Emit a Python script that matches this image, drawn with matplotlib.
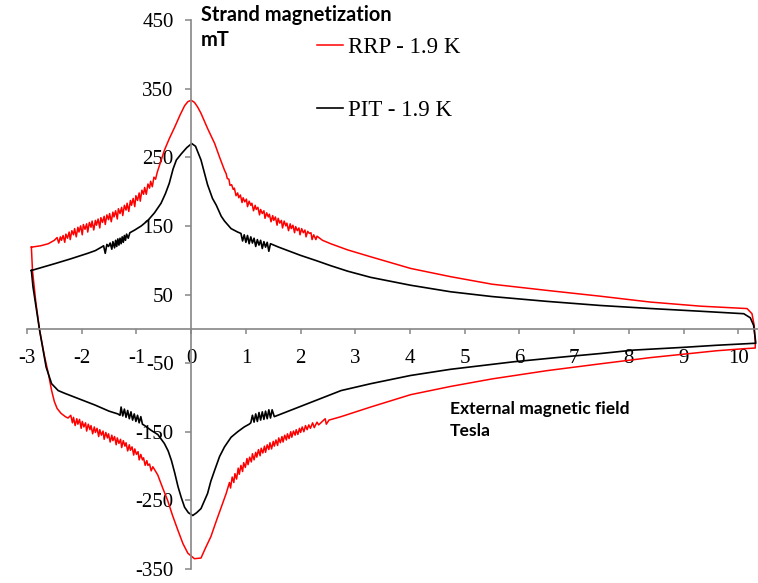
import numpy as np
import matplotlib.pyplot as plt

# RRP - 1.9 K, field decreasing branch (sorted by field)
rrp_upper = [
    (-2.92, 119), (-2.75, 121), (-2.61, 124), (-2.5, 129),
    (-2.45, 133), (-2.42, 125), (-2.39, 134), (-2.37, 129), (-2.34, 136), (-2.31, 126),
    (-2.29, 138), (-2.26, 132), (-2.23, 141), (-2.21, 130), (-2.18, 143), (-2.15, 137),
    (-2.13, 146), (-2.10, 134), (-2.07, 148), (-2.05, 141), (-2.02, 150), (-1.99, 137),
    (-1.97, 152), (-1.94, 145), (-1.91, 153), (-1.89, 141), (-1.86, 155), (-1.83, 148),
    (-1.81, 157), (-1.78, 144), (-1.75, 158), (-1.73, 151), (-1.70, 160), (-1.67, 147),
    (-1.65, 162), (-1.62, 155), (-1.59, 164), (-1.57, 152), (-1.54, 166), (-1.51, 159),
    (-1.49, 168), (-1.46, 156), (-1.43, 170), (-1.41, 163), (-1.38, 172), (-1.35, 160),
    (-1.33, 175), (-1.30, 168), (-1.27, 177), (-1.25, 165), (-1.22, 180), (-1.19, 173),
    (-1.17, 183), (-1.14, 171), (-1.11, 187), (-1.09, 180), (-1.06, 190), (-1.03, 178),
    (-1.01, 194), (-0.98, 187), (-0.95, 198), (-0.93, 186), (-0.90, 202), (-0.87, 196),
    (-0.85, 206), (-0.82, 196), (-0.79, 211), (-0.76, 205), (-0.74, 215), (-0.71, 207),
    (-0.68, 221), (-0.65, 218), (-0.62, 228),
    (-0.55, 245), (-0.49, 260), (-0.40, 277), (-0.30, 294), (-0.20, 312), (-0.12, 325),
    (-0.06, 331), (0.0, 333), (0.06, 330), (0.12, 323), (0.18, 314), (0.30, 292), (0.43, 270),
    (0.52, 250), (0.61, 231),
    (0.64, 226), (0.66, 219), (0.69, 218), (0.71, 209), (0.74, 210), (0.77, 203),
    (0.79, 205), (0.82, 194), (0.85, 198), (0.87, 191), (0.90, 195), (0.93, 184),
    (0.95, 191), (0.98, 185), (1.01, 189), (1.03, 178), (1.06, 186), (1.09, 180),
    (1.11, 183), (1.14, 172), (1.17, 180), (1.19, 174), (1.22, 177), (1.25, 166),
    (1.27, 174), (1.30, 168), (1.33, 172), (1.35, 161), (1.38, 169), (1.41, 163),
    (1.43, 167), (1.46, 156), (1.49, 165), (1.51, 158), (1.54, 163), (1.57, 151),
    (1.59, 161), (1.62, 154), (1.65, 158), (1.67, 147), (1.70, 157), (1.73, 150),
    (1.75, 154), (1.78, 143), (1.81, 153), (1.83, 146), (1.86, 151), (1.89, 140),
    (1.91, 149), (1.94, 143), (1.97, 147), (1.99, 137), (2.02, 146), (2.05, 140),
    (2.08, 144), (2.10, 134), (2.13, 142), (2.16, 139), (2.19, 140), (2.21, 130),
    (2.24, 137), (2.28, 130), (2.30, 135),
    (2.4, 129), (2.55, 124), (2.86, 115), (3.28, 105), (4.01, 88), (4.74, 76),
    (5.5, 65), (6.5, 56), (7.48, 47.5), (8.39, 39), (9.31, 33), (10.16, 29.5),
    (10.25, 22), (10.29, 5), (10.31, -20),
]

# RRP - 1.9 K, field increasing branch
rrp_lower = [
    (-2.92, 119), (-2.90, 85), (-2.84, 40), (-2.77, -2), (-2.68, -40), (-2.61, -65),
    (-2.55, -90), (-2.50, -106), (-2.45, -116), (-2.38, -123), (-2.30, -128), (-2.25, -130),
    (-2.20, -126), (-2.17, -137), (-2.15, -129), (-2.12, -141), (-2.09, -131), (-2.07, -139),
    (-2.04, -132), (-2.01, -145), (-1.99, -135), (-1.96, -143), (-1.93, -137), (-1.91, -149),
    (-1.88, -139), (-1.85, -147), (-1.83, -141), (-1.80, -153), (-1.77, -143), (-1.75, -151),
    (-1.72, -145), (-1.69, -157), (-1.67, -147), (-1.64, -155), (-1.61, -149), (-1.59, -161),
    (-1.56, -151), (-1.53, -159), (-1.51, -153), (-1.48, -165), (-1.45, -155), (-1.43, -163),
    (-1.40, -157), (-1.37, -169), (-1.35, -159), (-1.32, -167), (-1.29, -161), (-1.27, -173),
    (-1.24, -163), (-1.21, -171), (-1.19, -166), (-1.16, -178), (-1.13, -169), (-1.11, -177),
    (-1.08, -172), (-1.05, -184), (-1.03, -175), (-1.00, -183), (-0.97, -179), (-0.95, -191),
    (-0.92, -183), (-0.89, -191), (-0.87, -188), (-0.84, -199), (-0.81, -192), (-0.79, -199),
    (-0.76, -197), (-0.73, -207), (-0.70, -201),
    (-0.61, -213), (-0.52, -232), (-0.43, -250), (-0.34, -272), (-0.24, -294), (-0.15, -313),
    (-0.06, -327), (0.06, -335), (0.18, -334), (0.27, -318), (0.36, -303), (0.46, -280),
    (0.55, -260), (0.64, -240),
    (0.70, -224), (0.72, -232), (0.75, -216), (0.78, -224), (0.80, -211), (0.83, -219),
    (0.86, -203), (0.88, -212), (0.91, -199), (0.94, -208), (0.96, -195), (0.99, -202),
    (1.02, -189), (1.04, -198), (1.07, -187), (1.10, -194), (1.12, -182), (1.15, -191),
    (1.18, -180), (1.20, -187), (1.23, -176), (1.26, -185), (1.28, -174), (1.31, -181),
    (1.34, -171), (1.36, -180), (1.39, -169), (1.42, -176), (1.44, -166), (1.47, -175),
    (1.50, -164), (1.52, -171), (1.55, -162), (1.58, -170), (1.60, -159), (1.63, -166),
    (1.66, -157), (1.68, -165), (1.71, -155), (1.74, -162), (1.76, -153), (1.79, -160),
    (1.82, -150), (1.84, -158), (1.87, -149), (1.90, -155), (1.92, -147), (1.95, -154),
    (1.98, -145), (2.00, -151), (2.03, -143), (2.06, -150), (2.09, -141), (2.12, -147),
    (2.15, -140), (2.18, -145), (2.22, -137), (2.25, -144), (2.30, -136), (2.33, -140),
    (2.45, -131), (2.47, -139), (2.52, -133),
    (2.74, -128), (3.28, -114), (4.01, -96), (4.74, -84), (5.5, -73), (6.5, -61),
    (7.48, -51), (8.39, -42), (9.0, -37), (9.6, -32), (10.1, -29), (10.31, -28),
]

# PIT - 1.9 K, field decreasing branch
pit_upper = [
    (-2.92, 85), (-2.75, 89), (-2.49, 95), (-2.2, 102), (-1.89, 110), (-1.75, 114),
    (-1.64, 119),
    (-1.60, 121), (-1.57, 110), (-1.54, 123), (-1.51, 120), (-1.48, 125), (-1.45, 116),
    (-1.43, 127), (-1.40, 118), (-1.38, 129), (-1.36, 120), (-1.34, 131), (-1.32, 122),
    (-1.30, 132), (-1.28, 124), (-1.26, 134), (-1.24, 126), (-1.22, 136), (-1.20, 129),
    (-1.18, 138), (-1.15, 132), (-1.12, 140),
    (-1.03, 144), (-0.91, 150), (-0.79, 158), (-0.67, 169), (-0.55, 183), (-0.47, 197),
    (-0.40, 212), (-0.33, 233), (-0.27, 246), (-0.18, 255), (-0.08, 264), (0.01, 270),
    (0.08, 266), (0.18, 246), (0.30, 210), (0.39, 190), (0.46, 180), (0.55, 164),
    (0.61, 157), (0.73, 146), (0.85, 141),
    (0.91, 139), (0.94, 128), (0.97, 137), (1.00, 126), (1.03, 136), (1.06, 124),
    (1.09, 134), (1.12, 125), (1.15, 132), (1.18, 120), (1.21, 130), (1.24, 122),
    (1.27, 129), (1.30, 117), (1.33, 127), (1.36, 119), (1.39, 126), (1.42, 113),
    (1.45, 124),
    (1.6, 119), (2.0, 107), (2.3, 99), (2.55, 92), (2.86, 84), (3.28, 75), (4.01, 63.5),
    (4.74, 54), (5.5, 47), (6.5, 40), (7.48, 34), (8.39, 29.6), (9.31, 25.6),
    (10.1, 22), (10.22, 16), (10.28, 5),
]

# PIT - 1.9 K, field increasing branch
pit_lower = [
    (-2.92, 85), (-2.89, 61), (-2.77, -2), (-2.65, -56), (-2.55, -80), (-2.43, -90),
    (-2.31, -94), (-1.89, -107), (-1.76, -111), (-1.5, -120), (-1.34, -124),
    (-1.30, -126), (-1.28, -114), (-1.25, -127), (-1.22, -117), (-1.19, -129), (-1.16, -119),
    (-1.13, -131), (-1.10, -121), (-1.07, -133), (-1.04, -124), (-1.01, -135), (-0.98, -126),
    (-0.95, -137), (-0.92, -128), (-0.89, -139),
    (-0.85, -141), (-0.73, -148), (-0.61, -154), (-0.49, -167), (-0.42, -178), (-0.36, -192),
    (-0.30, -210), (-0.24, -230), (-0.18, -246), (-0.12, -260), (-0.05, -268), (0.03, -272),
    (0.10, -268), (0.18, -262), (0.30, -240), (0.36, -222), (0.43, -206), (0.52, -186),
    (0.61, -172), (0.73, -158), (0.85, -150), (0.97, -143), (1.06, -139),
    (1.09, -137), (1.12, -126), (1.15, -136), (1.18, -124), (1.21, -135), (1.24, -122),
    (1.27, -133), (1.30, -121), (1.33, -132), (1.36, -120), (1.39, -131), (1.42, -118),
    (1.45, -130), (1.48, -118), (1.52, -128),
    (2.13, -109), (2.45, -99), (2.74, -90), (3.28, -80), (4.01, -68), (4.74, -59),
    (5.9, -48), (6.8, -41), (7.48, -36), (8.09, -31), (9.0, -27), (9.6, -24),
    (10.1, -22), (10.32, -21),
]

x_ticks = list(range(-3, 11))
y_ticks = list(range(-350, 451, 100))


def loop(lower, upper):
    lo = np.array(lower)
    up = np.array(upper)[::-1]
    xy = np.concatenate([lo, up])
    return xy[:, 0], xy[:, 1]


plt.rcParams['font.family'] = 'Liberation Serif'
plt.rcParams['axes.unicode_minus'] = False

fig = plt.figure(figsize=(7.58, 5.83), dpi=100)
ax = fig.add_axes([27 / 758, 1 - 569 / 583, 1 - 27 / 758, (569 - 20) / 583])

rx, ry = loop(rrp_lower, rrp_upper)
px, py = loop(pit_lower, pit_upper)
ax.plot(rx, ry, color='#ff0000', lw=1.1, label='RRP - 1.9 K')
ax.plot(px, py, color='black', lw=1.2, label='PIT - 1.9 K')

ax.set_xlim(-3, 10.36)
ax.set_ylim(-350, 450)
ax.set_xticks(x_ticks)
ax.set_yticks(y_ticks)

ax.spines['left'].set_position(('data', 0))
ax.spines['bottom'].set_position(('data', 0))
ax.spines['top'].set_visible(False)
ax.spines['right'].set_visible(False)
for s in ['left', 'bottom']:
    ax.spines[s].set_color('#868686')
    ax.spines[s].set_linewidth(1.2)

ax.tick_params(axis='y', direction='out', length=4.5, width=1.1, color='#868686',
               labelsize=15, pad=8)
ax.tick_params(axis='x', direction='out', length=3.5, width=1.1, color='#868686',
               labelsize=15, pad=11)

ax.legend(loc='upper left', bbox_to_anchor=(317 / 758, 1 - 37 / 583),
          bbox_transform=fig.transFigure, frameon=False, fontsize=16.5,
          handlelength=1.15, handletextpad=0.2, labelspacing=1.85,
          borderpad=0, borderaxespad=0)

# y axis title, two lines
fig.text(201 / 758, 1 - 5 / 583, 'Strand magnetization', family='Lato',
         fontweight='bold', fontsize=14.4, va='top', ha='left')
fig.text(201 / 758, 1 - 30 / 583, 'mT', family='Lato',
         fontweight='bold', fontsize=14.4, va='top', ha='left')
# x axis title
fig.text(450 / 758, 1 - 401 / 583, 'External magnetic field\nTesla', family='Lato',
         fontweight='bold', fontsize=12.6, va='top', ha='left', linespacing=1.45)

fig.savefig('out.png', dpi=100)
